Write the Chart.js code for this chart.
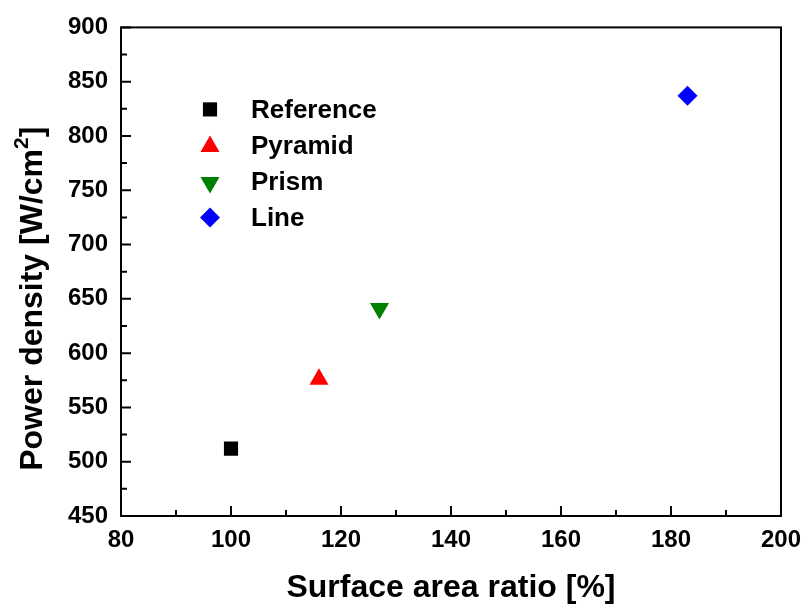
<!DOCTYPE html>
<html>
<head>
<meta charset="utf-8">
<script src="https://cdn.jsdelivr.net/npm/chart.js@4"></script>
<style>
    body { margin: 0; background: #fff; }
    #wrap { width: 811px; height: 608px; }
</style>
</head>
<body>
<div id="wrap"><canvas id="powerChart"></canvas></div>
<script>
// Values
const seriesNames = ['Reference', 'Pyramid', 'Prism', 'Line'];
const surfaceRatio = [100, 116, 127, 183];
const powerDensity = [512, 576, 641, 837];

// Marker styles (one per series)
const markerColors = ['#000000', '#ff0000', '#008000', '#0000ff'];
const markerShapes = ['rect', 'triangle', 'triangle', 'rectRot'];
const markerRotation = [0, 0, 180, 0];
const markerRadius = [10, 11, 11, 10];

const xTitle = 'Surface area ratio [%]';
const yTitleParts = ['Power density [W/cm', '2', ']'];

const FONT = '"Liberation Sans", Arial, sans-serif';

// Build one scatter dataset per series
const datasets = seriesNames.map((name, i) => ({
    label: name,
    data: [{ x: surfaceRatio[i], y: powerDensity[i] }],
    pointStyle: markerShapes[i],
    pointRotation: markerRotation[i],
    pointRadius: markerRadius[i],
    pointHoverRadius: markerRadius[i],
    pointBackgroundColor: markerColors[i],
    pointBorderColor: markerColors[i],
    pointBorderWidth: 0,
    showLine: false
}));

// Frame, inward ticks, axis titles and legend
const decorations = {
    id: 'decorations',
    afterDraw(chart) {
        const ctx = chart.ctx;
        const area = chart.chartArea;
        const xs = chart.scales.x;
        const ys = chart.scales.y;
        ctx.save();
        ctx.strokeStyle = '#000';
        ctx.lineWidth = 2;
        ctx.strokeRect(area.left, area.top, area.right - area.left, area.bottom - area.top);

        // Ticks pointing into the plot
        ctx.beginPath();
        const xVals = xs.ticks.map(t => t.value);
        xVals.forEach((v, k) => {
            const px = xs.getPixelForValue(v);
            ctx.moveTo(px, area.bottom);
            ctx.lineTo(px, area.bottom - 10);
            if (k < xVals.length - 1) {
                const mx = xs.getPixelForValue((v + xVals[k + 1]) / 2);
                ctx.moveTo(mx, area.bottom);
                ctx.lineTo(mx, area.bottom - 6);
            }
        });
        const yVals = ys.ticks.map(t => t.value);
        yVals.forEach((v, k) => {
            const py = ys.getPixelForValue(v);
            ctx.moveTo(area.left, py);
            ctx.lineTo(area.left + 10, py);
            if (k < yVals.length - 1) {
                const my = ys.getPixelForValue((v + yVals[k + 1]) / 2);
                ctx.moveTo(area.left, my);
                ctx.lineTo(area.left + 6, my);
            }
        });
        ctx.stroke();

        // X title
        ctx.fillStyle = '#000';
        ctx.font = 'bold 32px ' + FONT;
        ctx.textAlign = 'center';
        ctx.textBaseline = 'alphabetic';
        ctx.fillText(xTitle, (area.left + area.right) / 2, 597);

        // Y title with superscript, rotated
        ctx.save();
        ctx.translate(42, (area.top + area.bottom) / 2 + 27);
        ctx.rotate(-Math.PI / 2);
        ctx.textAlign = 'left';
        const bigFont = 'bold 32px ' + FONT;
        const supFont = 'bold 21px ' + FONT;
        ctx.font = bigFont;
        const w0 = ctx.measureText(yTitleParts[0]).width;
        const w2 = ctx.measureText(yTitleParts[2]).width;
        ctx.font = supFont;
        const w1 = ctx.measureText(yTitleParts[1]).width;
        let tx = -(w0 + w1 + w2) / 2;
        ctx.font = bigFont;
        ctx.fillText(yTitleParts[0], tx, 0);
        tx += w0;
        ctx.font = supFont;
        ctx.fillText(yTitleParts[1], tx, -14);
        tx += w1;
        ctx.font = bigFont;
        ctx.fillText(yTitleParts[2], tx, 0);
        ctx.restore();

        // Legend inside the plot
        ctx.font = 'bold 26px ' + FONT;
        ctx.textAlign = 'left';
        ctx.textBaseline = 'middle';
        chart.data.datasets.forEach((ds, i) => {
            const rowY = area.top + 82 + i * 36;
            ctx.fillStyle = ds.pointBackgroundColor;
            ctx.strokeStyle = ds.pointBorderColor;
            Chart.helpers.drawPoint(ctx, {
                pointStyle: ds.pointStyle,
                rotation: ds.pointRotation,
                radius: ds.pointRadius,
                borderWidth: 0
            }, area.left + 89, rowY + (ds.pointStyle === 'triangle' ? 1 : 0));
            ctx.fillStyle = '#000';
            ctx.fillText(ds.label, area.left + 130, rowY + 1);
        });
        ctx.restore();
    }
};

new Chart(document.getElementById('powerChart'), {
    type: 'scatter',
    data: { datasets: datasets },
    options: {
        responsive: true,
        maintainAspectRatio: false,
        animation: false,
        layout: { padding: { top: 27, right: 25, left: 0, bottom: 0 } },
        plugins: {
            legend: { display: false },
            tooltip: { enabled: false }
        },
        scales: {
            x: {
                type: 'linear',
                min: 80,
                max: 200,
                ticks: {
                    stepSize: 20,
                    padding: 10,
                    color: '#000',
                    font: { family: FONT, size: 24, weight: 'bold' }
                },
                grid: { display: false, drawTicks: false },
                border: { display: false },
                afterFit: scale => { scale.height = 92; }
            },
            y: {
                type: 'linear',
                min: 450,
                max: 900,
                ticks: {
                    stepSize: 50,
                    padding: 13,
                    color: '#000',
                    font: { family: FONT, size: 24, weight: 'bold' }
                },
                grid: { display: false, drawTicks: false },
                border: { display: false },
                afterFit: scale => { scale.width = 121; }
            }
        }
    },
    plugins: [decorations]
});
</script>
</body>
</html>
